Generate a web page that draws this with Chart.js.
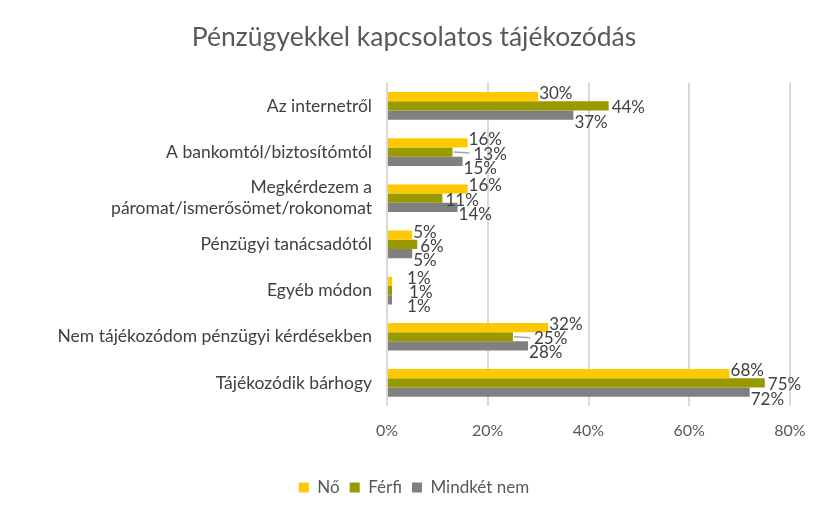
<!DOCTYPE html>
<html>
<head>
<meta charset="utf-8">
<script src="https://cdn.jsdelivr.net/npm/chart.js@4"></script>
<style>
  html, body { margin: 0; padding: 0; background: #fff; }
  #wrap { width: 827px; height: 516px; }
</style>
</head>
<body>
<div id="wrap"><canvas id="chart" width="827" height="516"></canvas></div>
<script>
// Chart data
const categories = [
    'Az internetről',
    'A bankomtól/biztosítómtól',
    ['Megkérdezem a', 'páromat/ismerősömet/rokonomat'],
    'Pénzügyi tanácsadótól',
    'Egyéb módon',
    'Nem tájékozódom pénzügyi kérdésekben',
    'Tájékozódik bárhogy'
];
const seriesNames = ['Nő', 'Férfi', 'Mindkét nem'];
const noValues = [30, 16, 16, 5, 1, 32, 68];
const ferfiValues = [44, 13, 11, 6, 1, 25, 75];
const mindketValues = [37, 15, 14, 5, 1, 28, 72];
const xTicks = [0, 20, 40, 60, 80];

const colors = ['#ffc800', '#999900', '#808080'];
const fontFamily = 'Lato, "Open Sans", sans-serif';

// Férfi labels that were dragged aside (with a leader line) in the original
const movedLabels = [1, 5];

// Draw value labels next to each bar end
const barLabels = {
    id: 'barLabels',
    afterDatasetsDraw(chart) {
        const ctx = chart.ctx;
        const yShift = [-3, 2, 7];
        const xShift = [1, 3, 1];
        ctx.save();
        ctx.font = '17px ' + fontFamily;
        ctx.fillStyle = '#404040';
        ctx.textBaseline = 'middle';
        ctx.textAlign = 'left';
        chart.data.datasets.forEach((ds, i) => {
            const meta = chart.getDatasetMeta(i);
            meta.data.forEach((bar, j) => {
                let x = bar.x + xShift[i];
                const y = bar.y + yShift[i];
                if (ds.data[j] <= 1) x += 14;
                if (i === 1 && movedLabels.includes(j)) {
                    ctx.strokeStyle = '#a6a6a6';
                    ctx.lineWidth = 1.5;
                    ctx.beginPath();
                    ctx.moveTo(bar.x + 1, bar.y);
                    ctx.lineTo(bar.x + 17, bar.y + 1);
                    ctx.stroke();
                    x = bar.x + 21;
                }
                ctx.fillText(ds.data[j] + '%', x, y);
            });
        });
        ctx.restore();
    }
};

// Centre title and legend on the whole canvas, not just the padded box
const centreBlocks = {
    id: 'centreBlocks',
    afterLayout(chart) {
        [chart.titleBlock, chart.legend].forEach(b => {
            if (b) { b.left += 19; b.right += 19; }
        });
    }
};

new Chart(document.getElementById('chart'), {
    type: 'bar',
    data: {
        labels: categories,
        datasets: [
            { label: seriesNames[0], data: noValues, backgroundColor: colors[0] },
            { label: seriesNames[1], data: ferfiValues, backgroundColor: colors[1] },
            { label: seriesNames[2], data: mindketValues, backgroundColor: colors[2] }
        ]
    },
    options: {
        indexAxis: 'y',
        responsive: false,
        animation: false,
        categoryPercentage: 0.6,
        barPercentage: 1.0,
        layout: { padding: { left: 0, right: 37, top: 8, bottom: 10 } },
        plugins: {
            title: {
                display: true,
                text: 'Pénzügyekkel kapcsolatos tájékozódás',
                color: '#595959',
                font: { family: fontFamily, size: 26.5, weight: 'normal' },
                padding: { top: 14, bottom: 29 }
            },
            legend: {
                position: 'bottom',
                labels: {
                    color: '#595959',
                    font: { family: fontFamily, size: 17 },
                    boxWidth: 10,
                    boxHeight: 10,
                    padding: 10
                }
            },
            tooltip: { enabled: false }
        },
        scales: {
            x: {
                min: 0,
                max: 80,
                afterBuildTicks(scale) {
                    scale.ticks = xTicks.map(v => ({ value: v }));
                },
                grid: { color: '#d9d9d9', lineWidth: 2, drawTicks: false },
                border: { display: false },
                ticks: {
                    color: '#595959',
                    font: { family: fontFamily, size: 16 },
                    padding: 15,
                    callback: v => v + '%'
                },
                afterFit(scale) { scale.height = 63; }
            },
            y: {
                grid: { display: false, drawTicks: false },
                border: { display: false },
                ticks: {
                    color: '#404040',
                    font: { family: fontFamily, size: 17.5 },
                    padding: 15
                },
                afterFit(scale) { scale.width = 387; }
            }
        }
    },
    plugins: [barLabels, centreBlocks]
});
</script>
</body>
</html>
